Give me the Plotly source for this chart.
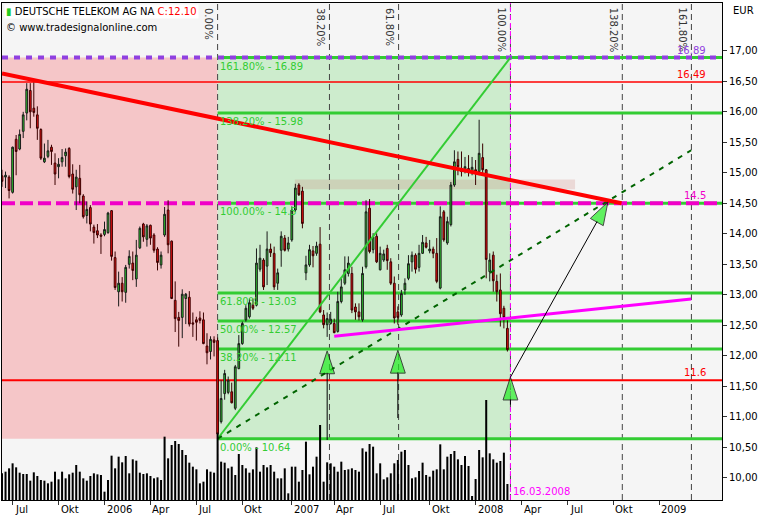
import pandas as pd
import plotly.graph_objects as go

# ---------------- data (weekly bars, DEUTSCHE TELEKOM AG NA) ----------------
first_week = "2005-06-13"
opens = [14.95, 14.93, 14.93, 14.68, 15.55, 15.39, 15.68, 15.98, 16.35, 16.06,
         15.95, 15.71, 15.18, 15.27, 15.42, 15.16, 15.10, 15.18, 15.28, 15.40,
         14.98, 14.77, 14.91, 14.62, 14.30, 14.43, 14.11, 14.05, 13.98, 13.99,
         14.02, 14.38, 13.61, 13.05, 13.19, 13.04, 13.50, 13.52, 13.26, 13.77,
         14.16, 13.91, 14.14, 13.98, 13.75, 13.49, 13.98, 14.39, 13.88, 12.91,
         12.63, 12.63, 12.94, 12.96, 12.54, 12.59, 12.62, 12.59, 12.16, 12.07,
         12.26, 12.25, 10.92, 11.38, 11.40, 11.41, 11.14, 11.79, 12.20, 12.59,
         12.64, 12.83, 12.83, 13.42, 13.57, 13.47, 13.75, 13.68, 13.19, 13.73,
         13.93, 13.75, 13.90, 14.39, 14.80, 14.70, 13.36, 13.49, 13.72, 13.68,
         13.83, 12.67, 12.51, 12.53, 12.53, 12.40, 12.89, 13.19, 13.35, 13.35,
         12.80, 12.72, 12.59, 13.46, 14.42, 13.74, 13.96, 13.41, 13.57, 13.76,
         13.54, 13.19, 12.72, 12.67, 13.08, 13.27, 13.54, 13.65, 13.45, 13.68,
         13.85, 13.72, 13.75, 13.68, 13.11, 14.36, 13.85, 14.15, 14.80, 15.22,
         15.07, 15.02, 15.07, 15.02, 15.05, 15.02, 15.25, 15.05, 13.38, 13.65,
         13.22, 13.08, 12.78, 12.45]
highs = [15.05, 15.02, 14.96, 15.43, 15.62, 15.71, 16.00, 16.47, 16.47, 16.48,
         16.09, 15.73, 15.48, 15.54, 15.46, 15.32, 15.24, 15.39, 15.40, 15.42,
         15.14, 15.05, 15.13, 14.65, 14.53, 14.47, 14.15, 14.16, 14.01, 14.20,
         14.36, 14.39, 13.71, 13.38, 13.29, 13.49, 13.73, 13.71, 13.90, 14.12,
         14.18, 14.16, 14.15, 14.01, 13.78, 13.71, 14.44, 14.55, 13.89, 13.22,
         12.72, 13.09, 13.03, 13.06, 12.71, 12.64, 12.73, 12.71, 12.37, 12.32,
         12.32, 12.30, 11.60, 11.77, 11.66, 11.56, 11.85, 12.34, 12.56, 12.83,
         12.94, 12.94, 13.76, 13.82, 13.60, 14.04, 13.84, 13.79, 13.43, 14.04,
         13.98, 13.95, 14.45, 14.82, 14.83, 14.77, 13.64, 13.82, 13.80, 13.87,
         14.11, 12.75, 12.71, 12.72, 12.61, 13.05, 13.27, 13.63, 13.63, 13.46,
         12.86, 12.86, 13.46, 14.55, 14.57, 14.01, 14.01, 13.79, 13.74, 13.82,
         13.60, 13.30, 12.81, 13.08, 13.27, 13.65, 13.71, 13.68, 13.82, 13.98,
         13.95, 13.90, 13.79, 13.93, 14.45, 14.39, 14.28, 14.85, 15.37, 15.35,
         15.35, 15.26, 15.29, 15.26, 15.21, 15.87, 15.48, 15.06, 13.68, 13.71,
         13.33, 13.35, 12.82, 12.58]
lows = [14.77, 14.75, 14.58, 14.66, 14.96, 15.37, 15.57, 15.86, 15.73, 15.92,
        15.54, 15.21, 15.16, 15.24, 15.13, 14.80, 14.91, 15.10, 15.10, 14.91,
        14.66, 14.39, 14.50, 14.25, 14.17, 14.04, 13.84, 13.93, 13.67, 13.96,
        14.00, 13.56, 13.08, 12.81, 12.89, 12.87, 13.43, 13.24, 13.13, 13.75,
        13.87, 13.79, 13.82, 13.69, 13.40, 13.43, 13.95, 13.68, 12.93, 12.39,
        12.15, 12.29, 12.52, 12.48, 12.31, 12.25, 12.53, 12.19, 11.86, 11.94,
        11.99, 10.64, 10.89, 11.28, 11.37, 11.22, 11.11, 11.78, 12.18, 12.56,
        12.61, 12.75, 12.81, 13.38, 13.08, 13.16, 13.62, 13.08, 13.08, 13.46,
        13.71, 13.71, 13.87, 14.36, 14.62, 14.09, 13.24, 13.46, 13.45, 13.64,
        12.70, 12.45, 12.31, 12.51, 12.37, 12.38, 12.86, 13.16, 13.30, 12.70,
        12.59, 12.58, 12.56, 13.43, 13.68, 13.68, 13.52, 13.40, 13.54, 13.41,
        13.16, 12.53, 12.51, 12.64, 13.00, 13.24, 13.38, 13.35, 13.38, 13.67,
        13.76, 13.68, 13.60, 13.19, 13.09, 13.87, 13.82, 14.12, 14.77, 14.96,
        14.94, 14.99, 14.94, 14.96, 14.80, 14.96, 14.96, 13.27, 13.22, 13.05,
        12.89, 12.48, 12.45, 12.07]
closes = [14.86, 14.96, 14.71, 15.42, 15.35, 15.63, 15.95, 16.37, 16.00, 15.99,
          15.73, 15.24, 15.24, 15.36, 15.35, 14.98, 15.14, 15.25, 15.34, 14.94,
          14.73, 14.93, 14.64, 14.28, 14.40, 14.16, 14.02, 13.98, 13.96, 14.07,
          14.34, 13.63, 13.12, 13.19, 13.05, 13.45, 13.63, 13.40, 13.65, 14.09,
          13.95, 14.13, 13.93, 13.73, 13.53, 13.65, 14.32, 13.82, 12.94, 12.61,
          12.58, 13.01, 13.01, 12.52, 12.52, 12.55, 12.58, 12.20, 12.05, 12.27,
          12.22, 10.72, 11.30, 11.71, 11.60, 11.23, 11.82, 12.20, 12.53, 12.78,
          12.87, 12.78, 13.52, 13.60, 13.13, 13.75, 13.69, 13.13, 13.36, 13.96,
          13.73, 13.85, 14.39, 14.75, 14.64, 14.17, 13.49, 13.74, 13.64, 13.80,
          12.72, 12.51, 12.61, 12.60, 12.38, 12.89, 13.13, 13.41, 13.52, 12.75,
          12.72, 12.64, 13.35, 14.36, 13.71, 13.95, 13.54, 13.68, 13.67, 13.56,
          13.19, 12.62, 12.63, 13.02, 13.19, 13.51, 13.65, 13.42, 13.68, 13.86,
          13.78, 13.75, 13.68, 13.22, 14.28, 13.90, 14.20, 14.80, 15.18, 15.10,
          15.02, 15.10, 15.02, 15.09, 15.02, 15.32, 15.05, 13.58, 13.57, 13.23,
          13.05, 12.69, 12.63, 12.10]
volumes = [80, 85, 95, 110, 98, 82, 78, 78, 58, 83,
           72, 60, 58, 50, 55, 85, 62, 85, 65, 77,
           82, 105, 85, 65, 58, 72, 80, 77, 75, 25,
           60, 133, 95, 130, 113, 132, 80, 122, 118, 82,
           78, 80, 72, 65, 68, 60, 190, 125, 165, 177,
           168, 150, 135, 112, 100, 92, 50, 55, 92, 85,
           82, 200, 115, 112, 95, 100, 75, 138, 105, 95,
           82, 92, 158, 85, 105, 98, 105, 85, 65, 65,
           95, 20, 100, 100, 55, 90, 175, 77, 100, 130,
           225, 55, 113, 110, 100, 85, 115, 90, 92, 95,
           90, 85, 155, 145, 168, 160, 80, 110, 62, 68,
           80, 110, 120, 145, 150, 105, 65, 68, 87, 112,
           75, 70, 88, 92, 167, 92, 130, 138, 147, 122,
           105, 132, 102, 12, 63, 150, 128, 300, 140, 122,
           112, 117, 142, 48]

tick_dates = ["2005-07-04", "2005-10-03", "2006-01-02", "2006-04-03", "2006-07-03",
              "2006-10-02", "2007-01-08", "2007-04-02", "2007-07-02", "2007-10-08",
              "2008-01-07", "2008-04-07", "2008-07-07", "2008-10-06", "2009-01-05"]
tick_labels = ["Jul", "Okt", "2006", "Apr", "Jul", "Okt", "2007", "Apr", "Jul", "Okt",
               "2008", "Apr", "Jul", "Okt", "2009"]
price_ticks = [10.0, 10.5, 11.0, 11.5, 12.0, 12.5, 13.0, 13.5, 14.0, 14.5,
               15.0, 15.5, 16.0, 16.5, 17.0]

# price Fibonacci retracement / extension
fib_names = ["0.00%", "38.20%", "50.00%", "61.80%", "100.00%", "138.20%", "161.80%"]
fib_levels = [10.64, 12.11, 12.57, 13.03, 14.5, 15.98, 16.89]
# time Fibonacci
time_fib_start = "2006-08-14"
time_fib_end = "2008-03-16"
time_fib_ratios = [0.0, 0.382, 0.618, 1.0, 1.382, 1.618]

# horizontal marker lines
hline_prices = [16.89, 16.49, 14.5, 11.6]
hline_colors = ["#9040e0", "#ff0000", "#f000c8", "#ff0000"]
hline_widths = [4, 1.5, 4, 2]
hline_dashes = ["6px,6px", "solid", "13px,5px", "solid"]
hline_labels = ["16.89", "16.49", "14.5", "11.6"]

# trend lines
red_trend_dates = ["2005-06-13", "2008-10-22"]
red_trend_prices = [16.63, 14.5]
dash_trend_dates = ["2006-08-14", "2009-03-09"]
dash_trend_prices = [10.64, 15.37]
magenta_trend_dates = ["2007-04-02", "2009-03-09"]
magenta_trend_prices = [12.32, 12.93]
band_dates = ["2007-01-14", "2008-07-22"]
band_prices = [14.73, 14.89]

# arrows (tail -> tip)
arrow_tail_dates = ["2007-03-19", "2007-08-06", "2008-03-16", "2008-03-16"]
arrow_tail_prices = [10.62, 10.98, 11.20, 11.65]
arrow_tip_dates = ["2007-03-19", "2007-08-06", "2008-03-16", "2008-09-25"]
arrow_tip_prices = [12.08, 12.09, 11.65, 14.52]

x_range = ["2005-06-13", "2009-05-09"]
y_range = [9.636, 17.784]
volume_range = [0, 1491]

# ---------------- figure ----------------
dates = pd.date_range(first_week, periods=len(closes), freq="7D")
t0 = pd.Timestamp(time_fib_start)
t1 = pd.Timestamp(time_fib_end)
time_lines = [t0 + (t1 - t0) * r for r in time_fib_ratios]

FONT = "DejaVu Sans"
GREEN = "#33cc33"

fig = go.Figure()

fig.add_trace(go.Bar(x=dates, y=volumes, yaxis="y2", width=4 * 86400000,
                     marker=dict(color="black", line=dict(width=0)),
                     hoverinfo="skip", showlegend=False))

fig.add_trace(go.Candlestick(
    x=dates, open=opens, high=highs, low=lows, close=closes,
    increasing=dict(fillcolor="#2fcc2f", line=dict(color="#1a1a1a", width=1)),
    decreasing=dict(fillcolor="#ee1111", line=dict(color="#3a0000", width=1)),
    whiskerwidth=0, showlegend=False))

# trend lines
fig.add_trace(go.Scatter(x=[t0, t1], y=[fib_levels[0], fib_levels[-1]], mode="lines",
                         line=dict(color=GREEN, width=2), showlegend=False, hoverinfo="skip"))
fig.add_trace(go.Scatter(x=dash_trend_dates, y=dash_trend_prices, mode="lines",
                         line=dict(color="#006400", width=2, dash="5px,6px"),
                         showlegend=False, hoverinfo="skip"))
fig.add_trace(go.Scatter(x=magenta_trend_dates, y=magenta_trend_prices, mode="lines",
                         line=dict(color="#ff00ff", width=3), showlegend=False, hoverinfo="skip"))
fig.add_trace(go.Scatter(x=red_trend_dates, y=red_trend_prices, mode="lines",
                         line=dict(color="#ff0000", width=4), showlegend=False, hoverinfo="skip"))

# arrows
for td, tp, hd, hp in zip(arrow_tail_dates, arrow_tail_prices, arrow_tip_dates, arrow_tip_prices):
    fig.add_trace(go.Scatter(
        x=[td, hd], y=[tp, hp], mode="lines+markers",
        line=dict(color="black", width=1),
        marker=dict(symbol="arrow", angleref="previous", size=[0, 24],
                    color="#22ee22", line=dict(color="black", width=[0, 1])),
        showlegend=False, hoverinfo="skip"))

shapes = []
# shaded zones
shapes.append(dict(type="rect", xref="x", yref="y", x0=x_range[0], x1=t0,
                   y0=fib_levels[0], y1=fib_levels[-1], fillcolor="#f5c6c8",
                   line=dict(width=0), layer="below"))
shapes.append(dict(type="rect", xref="x", yref="y", x0=t0, x1=t1,
                   y0=fib_levels[0], y1=fib_levels[-1], fillcolor="#cdeccd",
                   line=dict(width=0), layer="below"))
shapes.append(dict(type="rect", xref="x", yref="y", x0=band_dates[0], x1=band_dates[1],
                   y0=band_prices[0], y1=band_prices[1], fillcolor="rgba(200,120,110,0.22)",
                   line=dict(width=0), layer="below"))
# time fib lines
for tl in time_lines:
    shapes.append(dict(type="line", xref="x", yref="y", x0=tl, x1=tl,
                       y0=y_range[0], y1=y_range[1],
                       line=dict(color="#444444", width=1, dash="6px,4px"), layer="below"))
shapes.append(dict(type="line", xref="x", yref="y", x0=t1, x1=t1, y0=y_range[0], y1=y_range[1],
                   line=dict(color="#ff00ff", width=1, dash="5px,3px"), layer="below"))
# price fib lines
for lv in fib_levels:
    shapes.append(dict(type="line", xref="x", yref="y", x0=t0, x1=x_range[1], y0=lv, y1=lv,
                       line=dict(color=GREEN, width=3), layer="below"))
# horizontal marker lines
for p, c, w, d in zip(hline_prices, hline_colors, hline_widths, hline_dashes):
    shapes.append(dict(type="line", xref="x", yref="y", x0=x_range[0], x1=x_range[1],
                       y0=p, y1=p, line=dict(color=c, width=w, dash=d), layer="below"))

annotations = []
# header
annotations.append(dict(
    xref="paper", yref="paper", x=0, y=1, xanchor="left", yanchor="top", xshift=2, yshift=-1,
    text=("<span style='color:#22cc22'>▮</span> DEUTSCHE TELEKOM AG NA "
          f"<span style='color:#ff0000'>C:{closes[-1]:.2f}</span>"),
    showarrow=False, bgcolor="white", borderpad=1,
    font=dict(family=FONT, size=10, color="black")))
annotations.append(dict(
    xref="paper", yref="paper", x=0, y=1, xanchor="left", yanchor="top", xshift=2, yshift=-17,
    text="© www.tradesignalonline.com", showarrow=False,
    font=dict(family=FONT, size=10, color="black")))
# EUR
annotations.append(dict(xref="paper", yref="paper", x=1, y=1, xanchor="left", yanchor="top",
                        xshift=9, yshift=0, text="EUR", showarrow=False,
                        font=dict(family=FONT, size=10, color="black")))
# time fib labels
for tl, r in zip(time_lines, time_fib_ratios):
    annotations.append(dict(xref="x", yref="paper", x=tl, y=1, xanchor="right", yanchor="top",
                            xshift=-1, yshift=-3, textangle=90, text=f"{r * 100:.2f}%",
                            showarrow=False, font=dict(family=FONT, size=10, color="#333333")))
# price fib labels
for nm, lv in zip(fib_names, fib_levels):
    annotations.append(dict(xref="x", yref="y", x=t0, y=lv, xanchor="left", yanchor="top",
                            xshift=0, yshift=-1, text=f"{nm} - {lv:g}", showarrow=False,
                            font=dict(family=FONT, size=10, color=GREEN)))
# right side level labels
for p, c, lab in zip(hline_prices, hline_colors, hline_labels):
    annotations.append(dict(xref="x domain", yref="y", x=1, y=p, xanchor="right",
                            yanchor="bottom", xshift=-14, yshift=0, text=lab, showarrow=False,
                            font=dict(family=FONT, size=10, color=c)))
# date marker label
annotations.append(dict(xref="x", yref="paper", x=t1, y=0, xanchor="left", yanchor="bottom",
                        xshift=1, yshift=1, text=t1.strftime("%d.%m.%Y"), showarrow=False,
                        font=dict(family=FONT, size=10, color="#ff00ff")))
# x tick labels
for td, tl in zip(tick_dates, tick_labels):
    annotations.append(dict(xref="x", yref="paper", x=td, y=0, xanchor="left", yanchor="top",
                            xshift=0, yshift=-2, text=tl, showarrow=False,
                            font=dict(family=FONT, size=10, color="black")))

fig.update_layout(
    width=769, height=520,
    margin=dict(l=2, r=47, t=3, b=20),
    paper_bgcolor="white", plot_bgcolor="#f5f5f5",
    font=dict(family=FONT, size=10, color="black"),
    showlegend=False, hovermode=False,
    xaxis=dict(type="date", range=x_range, showgrid=False, zeroline=False,
               showline=True, linecolor="black", linewidth=1, mirror=True,
               ticks="outside", ticklen=4, tickcolor="#333333", tickvals=tick_dates,
               showticklabels=False, rangeslider=dict(visible=False)),
    yaxis=dict(range=y_range, side="right", showgrid=False, zeroline=False,
               showline=True, linecolor="black", linewidth=1, mirror=True,
               ticks="outside", ticklen=4, tickcolor="#333333",
               tickvals=price_ticks, ticktext=[f"{v:.2f}".replace(".", ",") for v in price_ticks],
               tickfont=dict(family=FONT, size=10, color="black")),
    yaxis2=dict(range=volume_range, overlaying="y", visible=False),
    shapes=shapes, annotations=annotations,
)

fig.write_html("out.html", config={"displayModeBar": False},
               post_script="document.body.style.margin='0px';document.body.style.overflow='hidden';")
